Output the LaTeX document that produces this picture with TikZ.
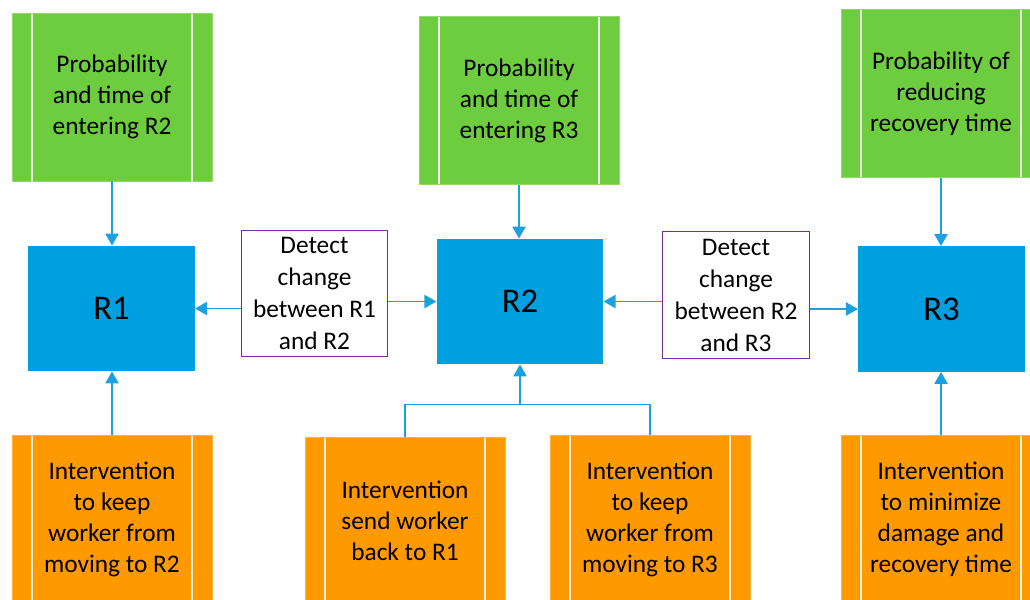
\documentclass[tikz,border=0pt]{standalone}
\usepackage{fontspec}
\setmainfont{Carlito}
\usetikzlibrary{arrows.meta,calc}
\definecolor{gfill}{HTML}{6DCD3F}
\definecolor{ofill}{HTML}{FF9900}
\definecolor{bfill}{HTML}{00A0E0}
\definecolor{acol}{HTML}{1BA1E2}
\definecolor{pcol}{HTML}{7030A0}
\tikzset{
  sidebox/.style={rectangle, fill=#1, draw=#1!75!white, line width=0.4pt,
    minimum width=150pt, minimum height=126pt, inner sep=0pt, align=center,
    font=\fontsize{19}{23.25}\selectfont,
    path picture={\draw[white!85!#1, line width=0.9pt]
      ([xshift=15pt]path picture bounding box.north west) -- ([xshift=15pt]path picture bounding box.south west)
      ([xshift=-15pt]path picture bounding box.north east) -- ([xshift=-15pt]path picture bounding box.south east);}},
  gbox/.style={sidebox=gfill},
  obox/.style={sidebox=ofill},
  rbox/.style={rectangle, fill=bfill, minimum width=125pt, minimum height=94pt, inner sep=0pt,
    font=\fontsize{26}{30}\selectfont},
  pbox/.style={rectangle, draw=pcol, line width=0.8pt, fill=white, minimum width=110pt, minimum height=95pt,
    inner sep=0pt, align=center, font=\fontsize{19}{24}\selectfont},
  conn/.style={draw=acol, line width=1.1pt},
  arr/.style={conn, -{Triangle[width=10pt,length=9pt]}}
}
\begin{document}
\begin{tikzpicture}[x=0.75pt,y=-0.75pt]
\useasboundingbox (0,0) rectangle (1030,599);
\clip (0,0) rectangle (1030,599);
% top green boxes
\node[gbox] (g1) at (112,97) {Probability\\and time of\\entering R2};
\node[gbox] (g2) at (519,100.5) {Probability\\and time of\\entering R3};
\node[gbox] (g3) at (941,93.5) {Probability of\\reducing\\recovery time};
% bottom orange boxes
\node[obox] (o1) at (112,519) {Intervention\\to keep\\worker from\\moving to R2};
\node[obox] (o2) at (405,521) {Intervention\\send worker\\back to R1};
\node[obox] (o3) at (650,519) {Intervention\\to keep\\worker from\\moving to R3};
\node[obox] (o4) at (941,519) {Intervention\\to minimize\\damage and\\recovery time};
% state boxes
\node[rbox] (r1) at (111.5,308.5) {R1};
\node[rbox] (r2) at (520,301.5) {R2};
\node[rbox] (r3) at (941.5,309) {R3};
% detect boxes
\node[pbox] (p1) at (314.5,293.5) {Detect\\change\\between R1\\and R2};
\node[pbox] (p2) at (736,295) {Detect\\change\\between R2\\and R3};
% arrows
\draw[arr] (g1.south) -- (g1.south |- r1.north);
\draw[arr] (g2.south) -- (g2.south |- r2.north);
\draw[arr] (g3.south) -- (g3.south |- r3.north);
\draw[arr] (o1.north) -- (o1.north |- r1.south);
\draw[arr] (o4.north) -- (o4.north |- r3.south);
\draw[arr] (p1.west |- r1) -- (r1);
\draw[arr] (p1.east |- r2) -- (r2);
\draw[arr] (p2.west |- r2) -- (r2);
\draw[arr] (p2.east |- r3) -- (r3);
\coordinate (j) at ($(r2.south)+(0,40)$);
\draw[conn] (o2.north) |- (j) -| (o3.north);
\draw[arr] (j) -- (r2.south);
\end{tikzpicture}
\end{document}
